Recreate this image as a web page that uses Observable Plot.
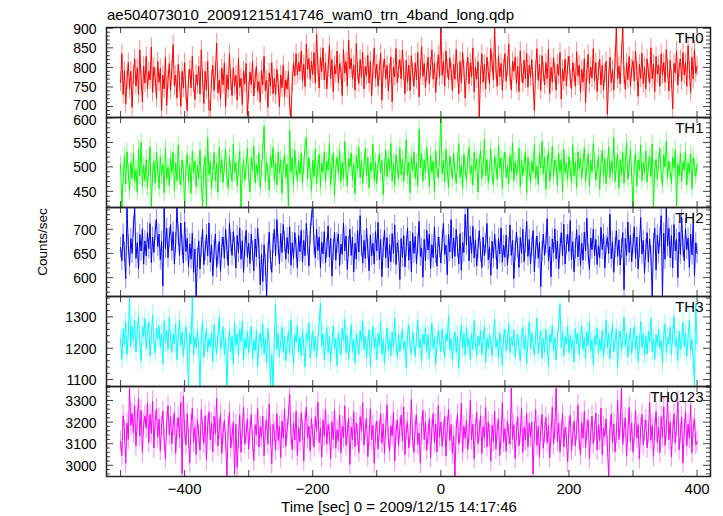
<!DOCTYPE html>
<html>
<head>
<meta charset="utf-8">
<script src="https://cdn.jsdelivr.net/npm/d3@7"></script>
<script src="https://cdn.jsdelivr.net/npm/@observablehq/plot@0.6"></script>
<style>
  html, body { margin: 0; padding: 0; background: white; }
  #chart { position: relative; width: 723px; height: 516px; background: white; overflow: hidden;
           font-family: "Liberation Sans", Arial, sans-serif; color: black; }
  .lbl { position: absolute; white-space: nowrap; }
</style>
</head>
<body>
<div id="chart">
  <div class="lbl" id="title" style="left:107px; top:6px; font-size:15px; line-height:18px;">ae504073010_20091215141746_wam0_trn_4band_long.qdp</div>
  <div class="lbl" id="ylab" style="left:43px; top:242px; font-size:13.5px; line-height:16px; transform:translate(-50%,-50%) rotate(-90deg);">Counts/sec</div>
  <div class="lbl" id="xlab" style="left:399px; top:498px; font-size:15px; line-height:18px; transform:translateX(-50%);">Time [sec] 0 = 2009/12/15 14:17:46</div>
</div>
<script>
// ---- data: time bins start at T0, spaced DT seconds ----
const T0 = -500, DT = 2;
const labels = ["TH0", "TH1", "TH2", "TH3", "TH0123"];
const xTicks = [-500, -400, -300, -200, -100, 0, 100, 200, 300, 400];
const xLabels = [-400, -200, 0, 200, 400];

const th0 = [
762,835,731,790,706,768,812,745,790,698,
781,822,752,799,731,845,770,712,803,760,
828,745,790,768,852,736,801,774,721,815,
762,797,690,780,745,826,703,768,810,741,
795,858,752,780,722,808,766,701,790,747,
812,736,690,771,795,748,829,760,718,782,
755,803,732,845,768,708,790,742,816,693,
689,770,805,741,790,862,735,768,720,798,
756,812,700,781,744,835,767,728,799,752,
780,716,823,749,772,705,791,758,810,676,
740,788,756,815,727,770,802,738,764,711,
792,755,828,740,768,698,786,750,812,733,
772,730,795,758,700,781,748,806,725,768,
745,790,702,674,762,812,778,835,781,812,
790,842,766,808,751,860,795,823,770,815,
782,838,760,885,802,747,826,790,850,768,
812,745,798,856,772,820,738,805,783,842,
761,810,792,728,846,785,815,752,870,796,
823,770,806,742,861,788,759,820,775,838,
745,802,779,831,760,815,728,795,850,772,
808,752,790,836,716,798,822,770,805,740,
785,826,712,801,776,848,760,795,820,771,
845,790,733,818,762,806,741,830,786,752,
812,768,838,725,795,853,777,810,749,788,
826,758,801,845,770,812,736,790,832,775,
900,780,815,752,842,796,768,825,790,741,
808,770,846,787,733,815,760,838,795,722,
790,826,758,812,776,850,738,801,770,815,
674,780,835,762,808,745,826,790,758,848,
812,769,900,795,751,830,776,810,742,798,
835,765,802,860,778,742,815,790,826,758,
803,738,842,785,760,819,771,836,750,806,
775,820,762,690,795,848,767,808,741,830,
788,755,812,771,846,733,800,762,825,786,
742,808,780,838,719,795,766,821,752,803,
829,770,745,812,786,752,840,778,806,736,
795,762,822,710,788,833,759,801,773,848,
766,812,738,790,821,755,806,742,785,815,
680,772,826,761,795,742,818,900,770,803,
758,835,900,780,744,812,769,828,752,796,
817,765,842,790,726,808,772,836,758,801,
745,822,786,760,850,771,809,738,828,783,
806,752,835,780,812,762,846,795,740,818,
771,694,810,786,842,755,799,821,765,838,
780,812,752,855,792,736,826,770,845,785,
802];

const th1 = [
505,418,478,522,465,531,488,452,510,476,
528,470,495,448,537,482,550,461,503,472,
515,458,497,541,420,486,512,467,530,494,
456,520,483,506,447,538,475,499,462,517,
489,530,452,508,472,545,481,463,514,491,
418,497,526,470,505,446,532,488,512,459,
503,476,535,466,419,498,522,418,560,484,
512,455,490,529,471,507,448,540,486,515,
468,502,536,479,456,521,493,470,547,488,
509,462,497,532,418,486,515,473,501,538,
480,449,519,493,542,467,505,484,528,458,
496,533,583,470,511,486,452,524,498,540,
472,508,463,530,487,515,446,501,525,479,
506,419,575,489,520,462,534,497,471,512,
485,528,467,503,543,560,476,519,492,451,
514,480,537,465,500,526,458,508,489,531,
470,512,494,549,463,505,528,442,497,520,
487,533,469,510,476,552,490,461,518,500,
529,474,506,446,523,495,540,478,512,466,
502,538,481,519,457,507,492,546,472,510,
466,505,527,488,513,443,499,534,480,517,
492,548,471,508,462,525,496,475,539,484,
516,470,503,555,482,510,447,521,493,530,
477,508,462,577,498,526,471,515,488,540,
503,461,524,489,512,450,533,495,478,518,
605,486,514,470,536,495,458,522,500,475,
528,491,466,510,548,479,503,456,526,497,
471,513,540,485,502,463,530,494,517,449,
508,533,476,499,557,482,515,468,492,537,
486,463,521,505,474,544,497,518,455,509,
530,478,502,466,524,491,549,472,511,485,
497,538,460,515,482,506,530,447,519,493,
468,511,489,545,476,502,464,527,498,552,
485,520,454,507,533,471,496,542,480,514,
503,462,528,490,515,448,536,487,509,475,
521,494,467,545,482,510,458,531,496,517,
476,508,539,470,500,527,461,513,489,548,
510,473,496,522,455,505,534,480,517,466,
499,541,478,512,487,560,470,503,526,457,
515,484,530,467,509,550,475,498,537,482,
418,506,527,461,514,493,545,472,509,488,
533,469,502,521,480,547,418,496,515,474,
509,538,486,462,525,500,553,478,512,491,
466,520,497,535,419,506,482,528,470,511,
494,532,463,508,487,526,455,519,498,480,
505];

const th2 = [
662,635,690,652,598,744,668,625,681,650,
705,744,640,672,618,689,655,701,628,676,
645,693,660,712,631,684,652,698,720,664,
690,637,675,583,744,660,702,641,683,710,
656,695,628,672,744,688,646,713,667,630,
715,654,681,622,670,638,692,611,659,562,
640,676,618,663,700,627,655,689,645,713,
632,668,604,657,690,621,648,675,613,662,
684,640,700,658,625,712,672,646,695,663,
620,687,652,703,638,676,611,665,698,642,
671,629,690,655,614,680,643,702,660,585,
648,592,668,627,562,652,694,636,611,670,
700,645,720,668,628,691,652,710,674,638,
683,650,705,626,672,640,693,661,620,687,
654,698,632,677,645,712,666,624,690,728,
744,668,641,700,656,684,620,673,649,695,
631,662,707,642,681,603,658,694,636,672,
690,625,669,648,713,655,686,617,664,700,
646,684,612,671,638,697,653,728,666,630,
677,640,702,659,614,688,645,671,628,695,
655,714,637,679,602,662,698,641,683,620,
668,633,691,650,709,627,672,656,596,681,
642,687,622,664,703,636,675,612,693,650,
685,628,670,716,644,661,601,679,635,698,
657,690,619,668,641,705,650,624,684,662,
630,676,712,648,667,606,689,653,720,640,
682,644,700,663,628,691,615,672,652,731,
668,744,635,686,650,706,641,678,624,660,
697,653,621,684,645,670,712,637,663,605,
675,640,690,657,618,681,649,703,632,667,
642,688,626,662,709,646,677,598,655,694,
661,621,683,650,700,633,672,716,644,679,
628,665,697,612,659,686,640,673,581,654,
690,646,671,722,635,664,602,680,652,701,
639,676,618,662,693,645,710,628,668,689,
654,718,637,674,612,660,699,643,687,625,
671,636,694,655,723,649,617,682,658,700,
645,679,627,666,641,704,658,690,620,667,
683,650,731,639,674,611,662,697,644,678,
626,660,693,575,681,646,715,652,688,633,
670,705,640,684,618,662,724,649,677,609,
658,693,632,680,645,562,671,702,616,688,
650,684,728,562,692,638,744,665,702,641,
687,620,710,655,679,600,694,648,725,663,
635,701,658,682,621,690,647,713,604,672,
650];

const th3 = [
1230,1165,1262,1210,1285,1180,1248,1362,1205,1271,
1225,1290,1188,1256,1302,1215,1160,1268,1237,1295,
1198,1252,1283,1176,1240,1307,1220,1185,1264,1231,
1272,1203,1246,1150,1288,1219,1257,1196,1300,1228,
1187,1245,1214,1278,1163,1236,1290,1208,1251,1174,
1226,1269,1195,1082,1248,1213,1362,1180,1235,1202,
1258,1197,1079,1240,1285,1170,1222,1263,1189,1231,
1205,1250,1158,1276,1218,1183,1242,1299,1196,1227,
1268,1181,1233,1082,1214,1257,1190,1238,1149,1282,
1209,1245,1176,1260,1221,1287,1164,1230,1199,1253,
1186,1238,1270,1168,1227,1192,1258,1141,1215,1249,
1201,1277,1183,1232,1155,1262,1216,1079,1180,1079,
1228,1340,1195,1246,1173,1222,1268,1187,1239,1160,
1212,1255,1184,1291,1206,1148,1243,1219,1274,1190,
1235,1177,1261,1203,1140,1248,1225,1282,1169,1214,
1256,1192,1237,1171,1222,1280,1345,1208,1245,1163,
1219,1266,1185,1238,1157,1210,1271,1198,1232,1145,
1250,1204,1179,1263,1224,1292,1186,1241,1166,1217,
1275,1190,1229,1153,1246,1211,1180,1257,1219,1287,
1196,1238,1168,1221,1259,1143,1226,1270,1200,1234,
1163,1247,1209,1285,1181,1228,1152,1214,1265,1192,
1230,1176,1251,1203,1297,1215,1170,1244,1188,1226,
1260,1197,1222,1138,1240,1275,1207,1183,1252,1218,
1174,1236,1290,1201,1229,1158,1245,1212,1268,1190,
1243,1166,1221,1280,1199,1237,1149,1211,1256,1225,
1189,1262,1208,1171,1247,1223,1305,1194,1232,1160,
1218,1253,1185,1239,1136,1226,1274,1200,1248,1178,
1267,1205,1231,1163,1244,1196,1288,1220,1175,1238,
1209,1257,1180,1225,1270,1157,1233,1198,1246,1214,
1176,1240,1293,1203,1228,1168,1250,1213,1145,1237,
1261,1192,1224,1279,1185,1236,1207,1258,1171,1219,
1245,1202,1160,1233,1268,1195,1241,1150,1226,1284,
1198,1250,1213,1177,1239,1296,1184,1221,1256,1168,
1232,1187,1260,1209,1143,1244,1218,1273,1193,1235,
1162,1227,1280,1340,1201,1253,1175,1236,1212,1269,
1186,1242,1199,1225,1156,1263,1214,1248,1180,1230,
1271,1197,1235,1168,1252,1208,1283,1192,1227,1147,
1240,1211,1265,1184,1229,1195,1257,1173,1216,1290,
1202,1248,1167,1233,1276,1188,1222,1261,1140,1236,
1255,1191,1228,1299,1206,1245,1172,1219,1264,1183,
1226,1270,1195,1240,1158,1212,1285,1203,1247,1176,
1238,1182,1253,1217,1296,1190,1231,1165,1244,1208,
1259,1199,1225,1151,1240,1278,1186,1234,1213,1268,
1179,1243,1301,1207,1230,1161,1255,1196,1221,1283,
1204,1250,1174,1237,1290,1192,1228,1160,1082,1340,
1215];

const th0123 = [
3110,3045,3230,3160,3010,3195,3120,3357,3185,3240,
3150,3275,3090,3210,3310,3135,3255,3060,3190,3228,
3172,3288,3105,3235,3148,3296,3080,3205,3262,3130,
3215,3068,3182,3250,3120,3030,3198,3276,3142,3225,
3100,3186,3245,3055,3170,3222,3128,3290,2960,3320,
3160,3095,3238,3126,3012,3190,3264,3108,3175,3050,
3212,3140,3070,3258,3165,3102,3230,3025,3185,3248,
3118,3196,3062,3227,3145,3310,3090,3170,3238,3055,
3150,3208,3115,2950,3176,3245,3080,3135,3200,2960,
3190,2990,3125,3232,3060,3168,3270,3098,3147,3215,
3075,3160,3235,3110,3022,3188,3140,3262,3085,3178,
3130,3226,3045,3165,3210,3098,3284,3135,3008,3190,
3152,3070,3238,3115,3180,3036,3205,3126,3262,3088,
3168,3230,3330,3140,3072,3196,3118,3250,3045,3175,
3108,3244,3162,3020,3198,3270,3125,3180,3066,3216,
3140,3085,3225,3160,3292,3105,3172,3038,3210,3135,
3260,3098,3188,3145,3030,3202,3120,3256,3078,3165,
3112,3234,3058,3180,3128,3275,3092,3150,3218,3004,
3176,3120,3248,3085,3196,3140,3060,3225,3158,3290,
3095,3170,3215,3040,3135,3262,3118,3185,3010,3148,
3205,3075,3160,3238,3102,3192,3055,3170,3280,3126,
3065,3182,3136,3246,3020,3155,3210,3090,3175,3232,
3112,3270,3048,3164,3198,3080,3140,3305,3125,3060,
3185,3232,3096,3150,3010,3178,3255,3118,3202,3070,
3145,3215,3035,3168,3240,3105,3190,3062,3276,3130,
3200,3088,3156,3225,3042,3178,3260,3115,3190,3055,
3135,2950,3170,3235,3098,3150,3288,3060,3182,3125,
3210,3072,3145,3300,3118,3190,3030,3165,3245,3100,
3158,3230,3055,3178,3125,3268,3086,3200,3140,3020,
3186,3110,3250,3075,3162,3215,3045,3130,3290,3108,
3170,3065,3205,3142,3098,3357,3120,3188,3032,3160,
3225,3090,3148,3265,3060,3175,3116,3240,3085,3195,
3130,3200,2960,3155,3258,3092,3180,3040,3165,3236,
3078,3150,3222,3105,3185,3035,3142,3270,3098,3168,
3357,3110,3195,3062,3150,3240,3085,3176,3128,3015,
3175,3232,3068,3140,3205,3090,3162,3280,3118,3048,
3196,3125,3250,3082,3165,3210,3030,3145,3228,3100,
3158,3242,3070,3186,3115,3265,3050,3172,3135,3215,
3088,2950,3160,3238,3105,3192,3062,3148,3300,3120,
3185,3357,3096,3170,3220,3042,3155,3268,3110,3195,
3060,3142,3255,3126,3188,3030,3172,3235,3095,3160,
3210,3080,3146,3290,3115,3185,3040,3168,3250,3105,
3178,3058,3225,3130,3270,3092,3165,3310,3118,3200,
3040,3155,3238,3102,3180,3295,3072,3146,3222,3010,
3165,3248,3090,3190,3125,3280,3058,3172,3215,3095,
3110];

// one-sigma error half-widths
const errs = [24, 18, 21, 30, 48];
const colors = ["#ff0000", "#00ff00", "#0000ff", "#00ffff", "#ff00ff"];
const lightColors = ["#ff8a8a", "#8aff8a", "#8a8aff", "#9affff", "#ff8aff"];
const yDomains = [[672, 902], [417, 601], [561, 745], [1078, 1365], [2948, 3365]];
const yMajor = [[900, 850, 800, 750, 700], [600, 550, 500, 450], [700, 650, 600], [1300, 1200, 1100], [3300, 3200, 3100, 3000]];
const yMinorStep = [10, 10, 10, 20, 20];
const series = [th0, th1, th2, th3, th0123];

// ---- layout ----
const W = 723, ML = 106, MR = 13;
const panelTops = [27, 117, 207, 296, 386];
const panelHeights = [90, 90, 89, 90, 90];
const xDomain = [-522, 421];
const TICK = "#444", FRAME = "#222";
const FONT = "'Liberation Sans', Arial, sans-serif";
const fmt = d => d < 0 ? "\u2212" + Math.abs(d) : String(d);

const chart = document.getElementById("chart");
const iw = W - ML - MR;

series.forEach((vals, k) => {
  const data = vals.map((v, i) => ({t: T0 + i * DT, v}));
  const err = errs[k];
  const dom = yDomains[k];
  const h = panelHeights[k];
  const bottom = k === series.length - 1;
  const mt = 14, mb = bottom ? 34 : 14;
  const step = yMinorStep[k];
  const minor = d3.range(Math.ceil(dom[0] / step) * step, dom[1] + 0.001, step)
    .filter(v => !yMajor[k].includes(v));
  const majors = yMajor[k];
  // nudge the labels that sit at a panel's very top/bottom edge apart from the neighbour panel's labels
  const labelDy = v => (k === 0 && v === 700) ? -1 : (k === 1 && v === 600) ? 2.5 : 1;
  const marks = [
    Plot.ruleX(data, {x: "t", y1: d => d.v - err, y2: d => d.v + err, stroke: lightColors[k], strokeWidth: 1, clip: true}),
    Plot.line(data, {x: "t", y: "v", stroke: colors[k], strokeWidth: 1}),
    Plot.tickY(majors, {y: d => d, insetRight: iw - 7, stroke: TICK}),
    Plot.tickY(majors, {y: d => d, insetLeft: iw - 7, stroke: TICK}),
    Plot.tickY(minor, {y: d => d, insetRight: iw - 4, stroke: TICK}),
    Plot.tickY(minor, {y: d => d, insetLeft: iw - 4, stroke: TICK}),
    Plot.tickX(xTicks, {x: d => d, insetBottom: h - 6, stroke: TICK}),
    Plot.tickX(xTicks, {x: d => d, insetTop: h - 6, stroke: TICK}),
    ...majors.map(v => Plot.text([v], {y: d => d, text: d => String(d), frameAnchor: "left", textAnchor: "end", dx: -10, dy: labelDy(v), fontSize: 14})),
    Plot.text([labels[k]], {text: d => d, frameAnchor: "top-right", textAnchor: "end", lineAnchor: "top", dx: -7, dy: 4.5, fontSize: 15}),
    Plot.frame({stroke: FRAME, strokeWidth: 1.5})
  ];
  if (bottom) {
    marks.push(Plot.text(xLabels, {x: d => d, text: d => fmt(d), frameAnchor: "bottom", lineAnchor: "top", dy: 7, fontSize: 15}));
  }
  const svg = Plot.plot({
    width: W, height: h + mt + mb,
    marginLeft: ML, marginRight: MR, marginTop: mt, marginBottom: mb,
    x: {domain: xDomain, axis: null},
    y: {domain: dom, axis: null},
    style: {background: "transparent", overflow: "visible", fontFamily: FONT, fontSize: "15px", color: "black"},
    marks
  });
  svg.style.position = "absolute";
  svg.style.left = "0px";
  svg.style.top = (panelTops[k] - mt) + "px";
  chart.appendChild(svg);
});
</script>
</body>
</html>
